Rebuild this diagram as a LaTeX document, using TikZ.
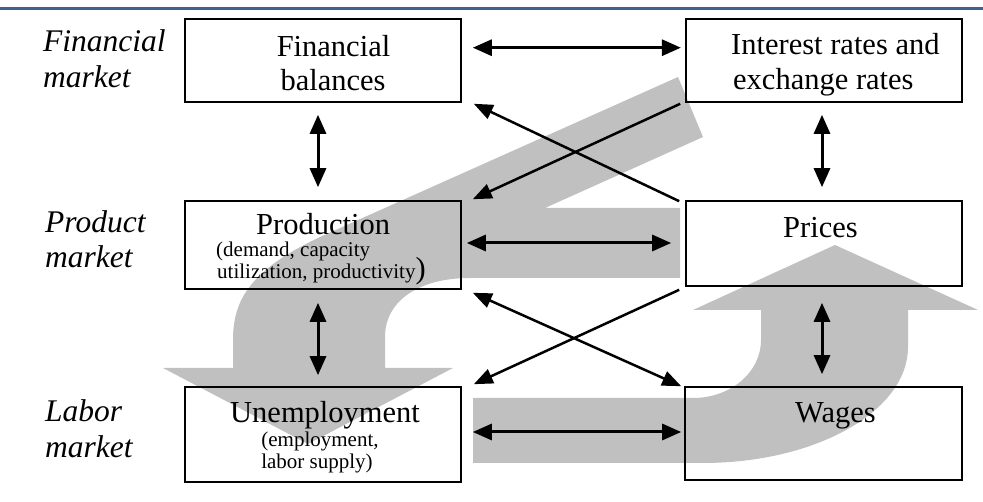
\documentclass[tikz,border=0pt]{standalone}
\usepackage{fontspec}
\setmainfont{Liberation Serif}
\usetikzlibrary{arrows.meta}
\definecolor{gshade}{HTML}{C0C0C0}
\definecolor{rulecol}{HTML}{44608F}
\tikzset{
  box/.style={draw=black, line width=1.6pt, inner sep=0pt, fill=none},
  txt/.style={inner sep=0pt, font=\fontsize{30.5}{34}\selectfont},
  lbl/.style={inner sep=0pt, font=\fontsize{31.5}{36}\selectfont\itshape},
  sub/.style={inner sep=0pt, font=\fontsize{21}{22}\selectfont},
  dbl/.style={line width=3pt, {Triangle[length=19pt,width=16pt]}-{Triangle[length=19pt,width=16pt]}},
  crossone/.style={line width=2.5pt, -{Triangle[length=19pt,width=15pt]}},
  crosstwo/.style={line width=2.5pt, {Triangle[length=19pt,width=15pt]}-{Triangle[length=19pt,width=15pt]}},
}
\begin{document}
\begin{tikzpicture}[x=1pt,y=-1pt]
\useasboundingbox (0,0) rectangle (983,502);
% header rule
\draw[rulecol, line width=3.5pt] (0,8.5) -- (983,8.5);
% gray flow shapes
\fill[gshade] (678,77) -- (703,137) -- (545,208) -- (680,208) -- (680,278) -- (470,278)
  .. controls (420,278) and (385,300) .. (385,337) -- (385,368) -- (453,368) -- (308,444)
  -- (163,368) -- (233,368) -- (233,340) .. controls (233,300) and (250,270) .. (320,237) -- cycle;
\fill[gshade] (473,398) -- (693,398) .. controls (731,398) and (761,372) .. (761,340)
  -- (761,310) -- (693,310) -- (835,245) -- (978,310) -- (908,310) -- (908,347)
  .. controls (908,411) and (816,463) .. (703,463) -- (473,463) -- cycle;
% boxes
\node[box, minimum width=276pt, minimum height=83pt] (fb) at (323,60.5) {};
\node[box, minimum width=276pt, minimum height=83pt] (ir) at (824,60.5) {};
\node[box, minimum width=276pt, minimum height=88pt] (pd) at (323,245) {};
\node[box, minimum width=276pt, minimum height=85pt] (pc) at (824,243.5) {};
\node[box, minimum width=276pt, minimum height=95pt] (un) at (323,434.5) {};
\node[box, minimum width=277pt, minimum height=93pt] (wg) at (823.5,433.5) {};
% row labels
\node[lbl, anchor=base west] (l1a) at (43,52) {Financial};
\node[lbl, anchor=base west] (l1b) at (43,88) {market};
\node[lbl, anchor=base west] (l2a) at (45,233) {Product};
\node[lbl, anchor=base west] (l2b) at (45,268) {market};
\node[lbl, anchor=base west] (l3a) at (45,422) {Labor};
\node[lbl, anchor=base west] (l3b) at (45,458) {market};
% box texts
\node[txt, anchor=base] (fbt1) at (333.5,56.7) {Financial};
\node[txt, anchor=base] (fbt2) at (333,91) {balances};
\node[txt, anchor=base west] (irt1) at (731,55) {Interest rates and};
\node[txt, anchor=base west] (irt2) at (733,90) {exchange rates};
\node[txt, anchor=base west] (pdt1) at (256,235) {Production};
\node[sub, anchor=base west] (pdt2) at (216,257) {(demand, capacity};
\node[sub, anchor=base west] (pdt3) at (217,279) {utilization, productivity{\fontsize{30.5}{34}\selectfont)}};
\node[txt, anchor=base west] (pct1) at (783,238) {Prices};
\node[txt, anchor=base west] (unt1) at (230,423) {Unemployment};
\node[sub, anchor=base] (unt2) at (320,446.7) {(employment,};
\node[sub, anchor=base] (unt3) at (317,468) {labor supply)};
\node[txt, anchor=base west] (wgt1) at (795,423) {Wages};
% connectors
\draw[dbl] ([xshift=11pt,yshift=12.8pt]fb.east) -- ([xshift=-4.3pt,yshift=12.8pt]ir.west);
\draw[dbl] ([xshift=-5pt,yshift=-12pt]fb.south) -- ([xshift=-5pt,yshift=13pt]pd.north);
\draw[dbl] ([xshift=-2pt,yshift=-12pt]ir.south) -- ([xshift=-2pt,yshift=13pt]pc.north);
\draw[dbl] ([xshift=5pt,yshift=2pt]pd.east) -- ([xshift=-14pt,yshift=0.5pt]pc.west);
\draw[dbl] ([xshift=-5pt,yshift=-13pt]pd.south) -- ([xshift=-5pt,yshift=11pt]un.north);
\draw[dbl] ([xshift=-2pt,yshift=-16pt]pc.south) -- ([xshift=-1.5pt,yshift=12pt]wg.north);
\draw[dbl] ([xshift=11pt,yshift=2.5pt]un.east) -- ([xshift=-3pt,yshift=1.5pt]wg.west);
\draw[crossone] ([xshift=-5pt,yshift=-1pt]ir.south west) -- ([xshift=11pt,yshift=1pt]pd.north east);
\draw[crossone] ([xshift=-6pt,yshift=-1pt]pc.north west) -- ([xshift=12pt,yshift=-1pt]fb.south east);
\draw[crosstwo] ([xshift=11pt,yshift=-3pt]pd.south east) -- ([xshift=-3pt,yshift=0pt]wg.north west);
\draw[crossone] ([xshift=-6pt,yshift=-3pt]pc.south west) -- ([xshift=12pt,yshift=2pt]un.north east);
\end{tikzpicture}
\end{document}
